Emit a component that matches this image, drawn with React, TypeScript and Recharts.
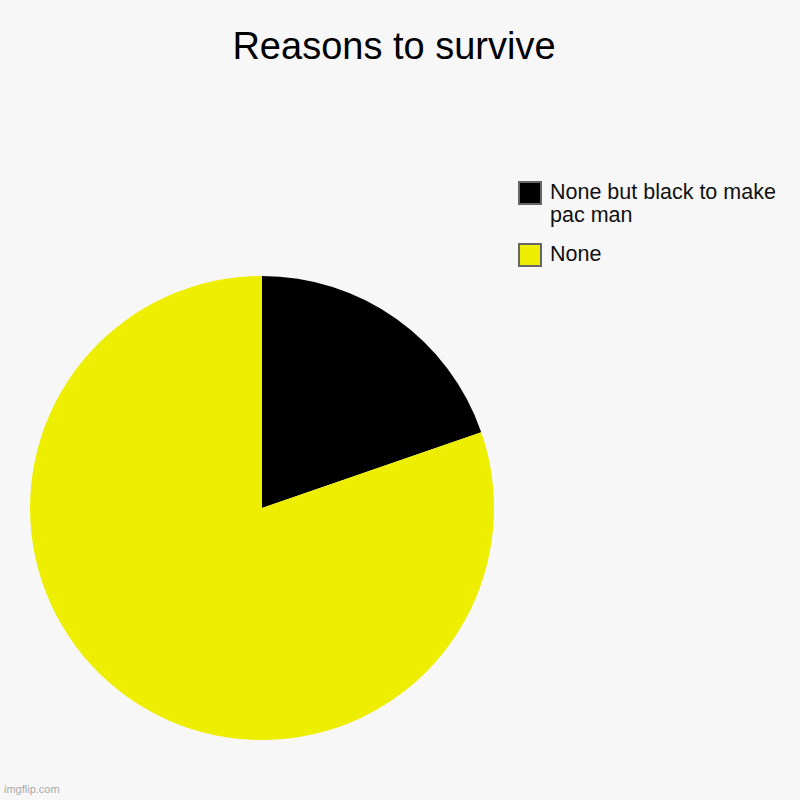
import React from "react";
import { PieChart, Pie, Cell } from "recharts";

const categories = ["None but black to make pac man", "None"];
const values = [19.7, 80.3];
const colors = ["#000000", "#eeee00"];
const title = "Reasons to survive";

const data = categories.map((name, i) => ({ name, value: values[i] }));

const FONT = "'Liberation Sans', Arial, Helvetica, sans-serif";

export default function App() {
  return (
    <div
      style={{
        position: "absolute",
        left: 0,
        top: 0,
        width: 800,
        height: 800,
        background: "#f7f7f7",
        overflow: "hidden",
      }}
    >
      <div
        style={{
          position: "absolute",
          top: 25,
          left: 0,
          width: 788,
          textAlign: "center",
          fontFamily: FONT,
          fontSize: 38,
          color: "#000",
        }}
      >
        {title}
      </div>
      <PieChart
        width={800}
        height={800}
        margin={{ top: 0, right: 0, bottom: 0, left: 0 }}
        style={{ position: "absolute", left: 0, top: 0 }}
      >
        <Pie
          data={data}
          dataKey="value"
          nameKey="name"
          cx={262}
          cy={508}
          outerRadius={232}
          startAngle={90}
          endAngle={-270}
          stroke="none"
          isAnimationActive={false}
        >
          {data.map((d, i) => (
            <Cell key={d.name} fill={colors[i]} />
          ))}
        </Pie>
      </PieChart>
      <div
        style={{
          position: "absolute",
          left: 518,
          top: 181,
          width: 280,
          fontFamily: FONT,
          fontSize: 21.5,
          color: "#111",
        }}
      >
        {data.map((d, i) => (
          <div
            key={d.name}
            style={{ display: "flex", alignItems: "flex-start", marginBottom: i === 0 ? 16 : 0 }}
          >
            <div
              style={{
                width: 20,
                height: 20,
                background: colors[i],
                border: "2px solid #666",
                flex: "none",
              }}
            />
            <div style={{ marginLeft: 8, width: 250, lineHeight: "23px" }}>{d.name}</div>
          </div>
        ))}
      </div>
      <div
        style={{
          position: "absolute",
          left: 4,
          top: 783,
          fontFamily: FONT,
          fontSize: 11,
          color: "#aaa",
        }}
      >
        imgflip.com
      </div>
    </div>
  );
}
